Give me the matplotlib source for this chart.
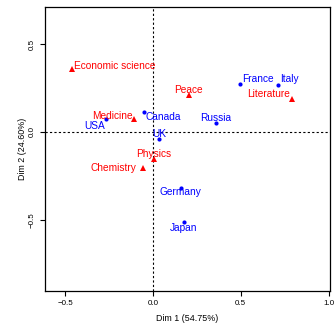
import matplotlib
matplotlib.use("Agg")
import matplotlib.pyplot as plt

# Correspondence analysis map: countries (rows) vs Nobel prize categories (columns)
countries = ["USA", "Canada", "UK", "France", "Italy", "Russia", "Germany", "Japan"]
country_dim1 = [-0.269, -0.050, 0.036, 0.497, 0.714, 0.357, 0.158, 0.177]
country_dim2 = [0.074, 0.114, -0.040, 0.275, 0.268, 0.051, -0.317, -0.513]

prizes = ["Economic science", "Medicine", "Physics", "Chemistry", "Peace", "Literature"]
prize_dim1 = [-0.461, -0.108, 0.006, -0.055, 0.205, 0.790]
prize_dim2 = [0.357, 0.074, -0.156, -0.205, 0.211, 0.190]

# label placement: (dx px, dy px, horizontal alignment)
country_lab = [(-1, -6.7, "right"), (1.4, -5.3, "left"), (0, 4.7, "center"),
               (2.4, 5, "left"), (1.7, 5.7, "left"), (0, 5, "center"),
               (0, -4.7, "center"), (0, -5.7, "center")]
prize_lab = [(2, 3.6, "left"), (-1.3, 3.3, "right"), (0, 5, "center"),
             (-7.3, 0, "right"), (0, 4.7, "center"), (-2, 4.4, "right")]

plt.rcParams["font.family"] = ["Liberation Sans", "DejaVu Sans"]

DPI = 100
PX = 72.0 / DPI

fig = plt.figure(figsize=(3.35, 3.28), dpi=DPI)
ax = fig.add_axes([0.134, 0.113, 0.851, 0.866])

ax.axhline(0, color="black", lw=0.8, ls=(0, (2, 2)), zorder=1)
ax.axvline(0, color="black", lw=0.8, ls=(0, (2, 2)), zorder=1)

ax.plot(country_dim1, country_dim2, "o", color="blue", ms=3.0, mew=0, zorder=3)
ax.plot(prize_dim1, prize_dim2, "^", color="red", ms=4.6, mew=0, zorder=3)

for name, x, y, (dx, dy, ha) in zip(countries, country_dim1, country_dim2, country_lab):
    ax.annotate(name, (x, y), xytext=(dx * PX, dy * PX), textcoords="offset points",
                ha=ha, va="center", color="blue", fontsize=7.3)
for name, x, y, (dx, dy, ha) in zip(prizes, prize_dim1, prize_dim2, prize_lab):
    ax.annotate(name, (x, y), xytext=(dx * PX, dy * PX), textcoords="offset points",
                ha=ha, va="center", color="red", fontsize=7.3)

ax.set_xlim(-0.615, 1.008)
ax.set_ylim(-0.905, 0.712)
ax.set_xticks([-0.5, 0.0, 0.5, 1.0])
ax.set_yticks([-0.5, 0.0, 0.5])
ax.set_xticklabels(["\u22120.5", "0.0", "0.5", "1.0"])
ax.set_yticklabels(["\u22120.5", "0.0", "0.5"], rotation=90, va="center")
ax.tick_params(direction="out", length=3.6, width=0.8, labelsize=5.8, pad=3)
for s in ax.spines.values():
    s.set_linewidth(0.9)

ax.set_xlabel("Dim 1 (54.75%)", fontsize=6.4, labelpad=5)
ax.set_ylabel("Dim 2 (24.60%)", fontsize=6.4, labelpad=1.5)

fig.savefig("out.png", dpi=DPI)
